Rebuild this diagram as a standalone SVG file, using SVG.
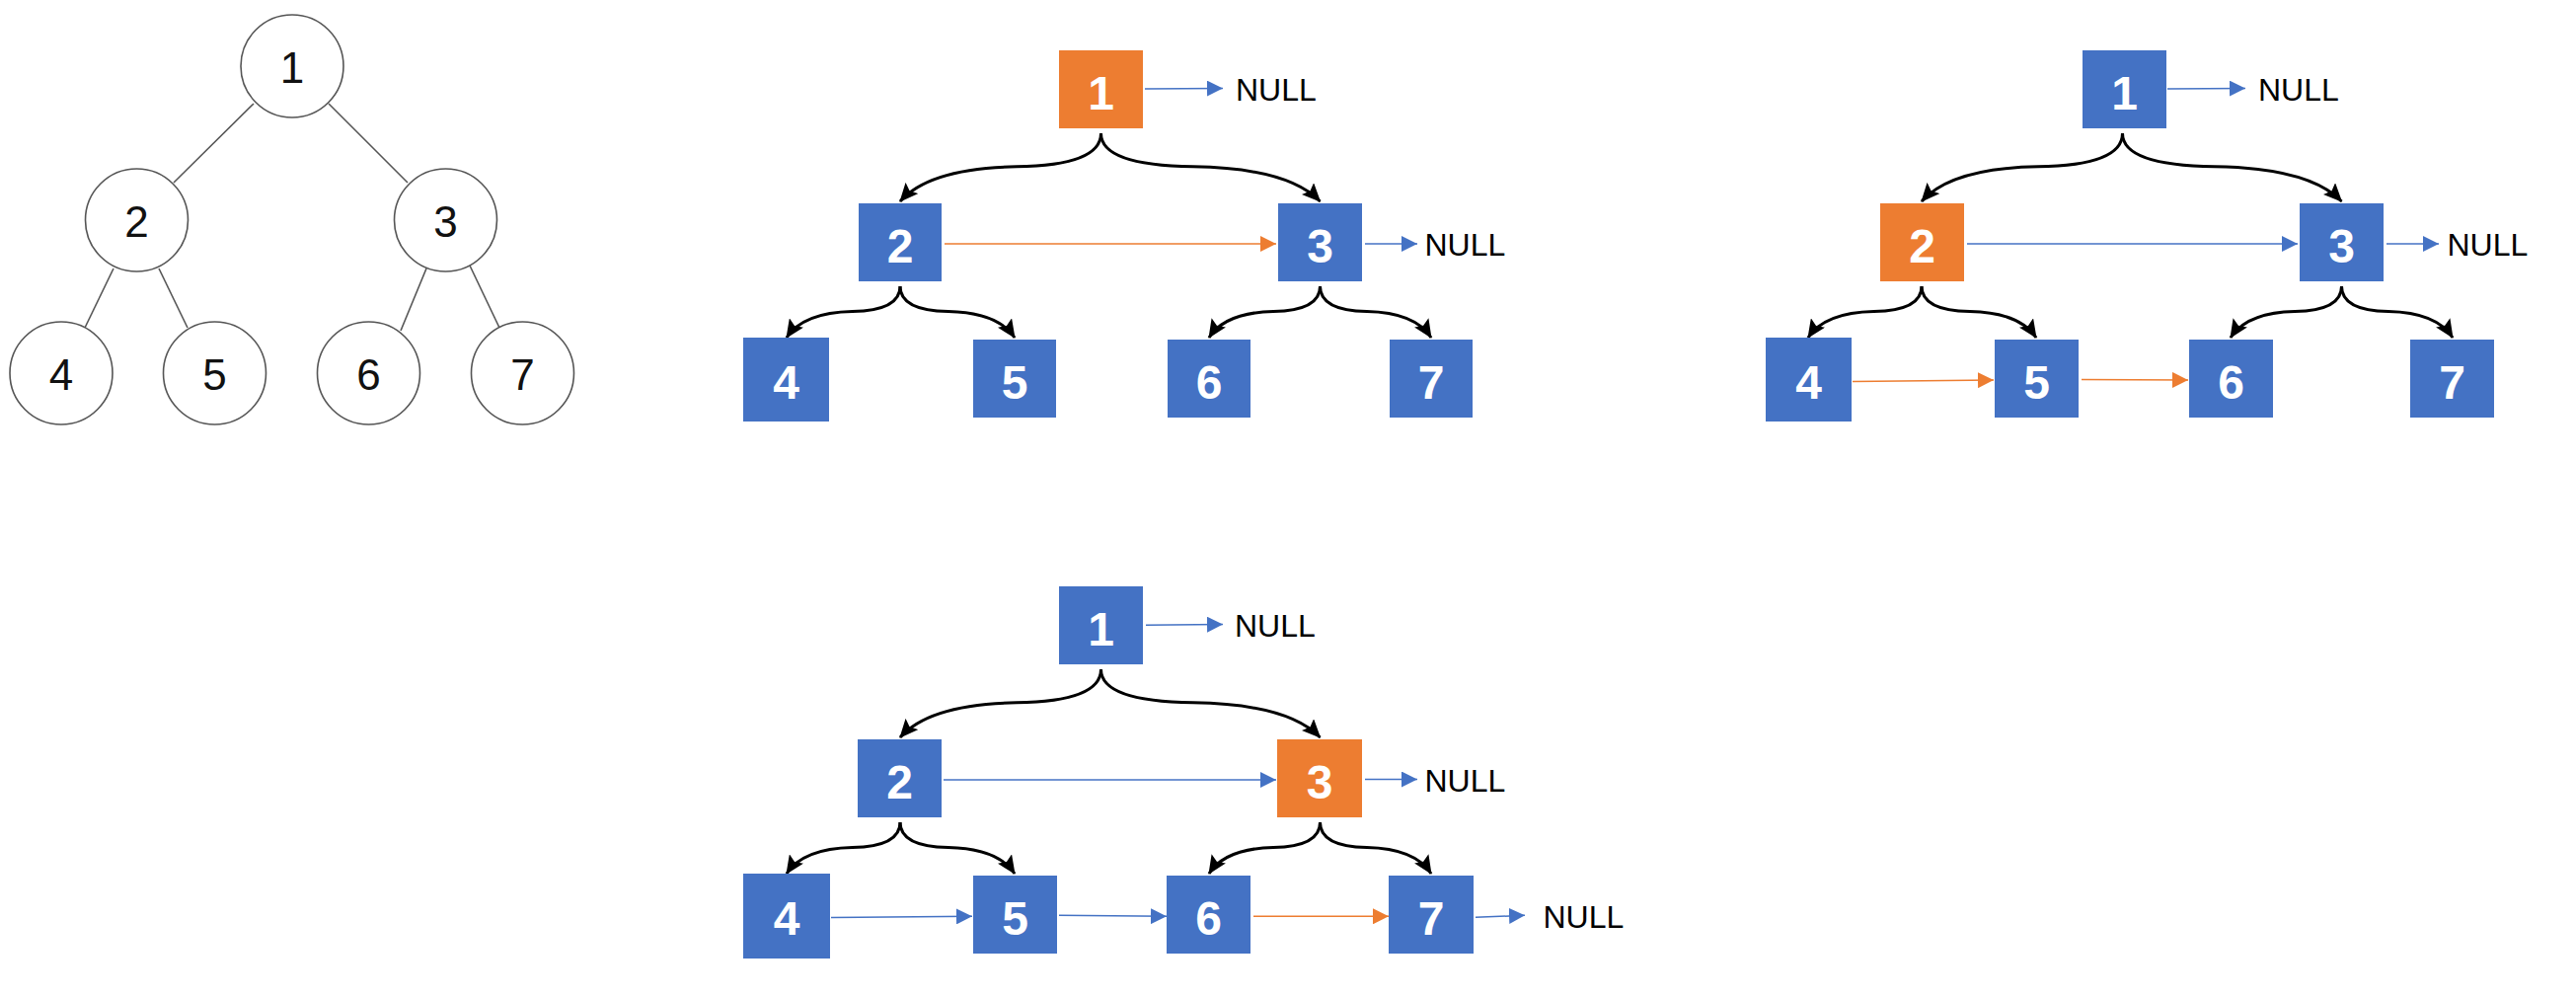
<svg xmlns="http://www.w3.org/2000/svg" width="2610" height="1010" viewBox="0 0 2610 1010">
  <style>
    .circ { fill: #fff; stroke: #555; stroke-width: 1.6; }
    .edge { stroke: #555; stroke-width: 1.6; fill: none; }
    .cnum { font-family: "Liberation Sans", Arial, sans-serif; font-size: 44px; fill: #111; text-anchor: middle; }
    .blue { fill: #4472C4; }
    .orange { fill: #ED7D31; }
    .num { font-family: "Liberation Sans", Arial, sans-serif; font-weight: bold; font-size: 48px; fill: #fff; text-anchor: middle; }
    .null { font-family: "Liberation Sans", Arial, sans-serif; font-size: 32px; fill: #000; }
    .branch { fill: none; stroke: #000; stroke-width: 3; marker-end: url(#head-black); }
    .link-b { fill: none; stroke: #4472C4; stroke-width: 1.5; marker-end: url(#head-blue); }
    .link-o { fill: none; stroke: #ED7D31; stroke-width: 1.5; marker-end: url(#head-orange); }
  </style>
  <defs>
    <marker id="head-black" markerUnits="userSpaceOnUse" viewBox="0 0 19 17" markerWidth="19" markerHeight="17" refX="18" refY="8.5" orient="auto">
      <path d="M0,0 L19,8.5 L0,17 L3.5,8.5 z" fill="#000"/>
    </marker>
    <marker id="head-blue" markerUnits="userSpaceOnUse" viewBox="0 0 16 16" markerWidth="16" markerHeight="16" refX="16" refY="8" orient="auto">
      <path d="M0,0 L16,8 L0,16 z" fill="#4472C4"/>
    </marker>
    <marker id="head-orange" markerUnits="userSpaceOnUse" viewBox="0 0 16 16" markerWidth="16" markerHeight="16" refX="16" refY="8" orient="auto">
      <path d="M0,0 L16,8 L0,16 z" fill="#ED7D31"/>
    </marker>
  </defs>
  <rect width="2610" height="1010" fill="#fff"/>

  <!-- connectors -->
  <g id="connectors">
    <!-- plain binary tree -->
    <g id="tree-edges">
      <line class="edge" x1="257" y1="105" x2="176" y2="185"/>
      <line class="edge" x1="333" y1="105" x2="413" y2="185"/>
      <line class="edge" x1="115" y1="272" x2="86" y2="332"/>
      <line class="edge" x1="161" y1="272" x2="190" y2="332"/>
      <line class="edge" x1="432" y1="272" x2="406" y2="335"/>
      <line class="edge" x1="476" y1="269" x2="506" y2="332"/>
    </g>
    <!-- step 1: root processed -->
    <g id="step1-links">
      <path class="branch" d="M1115.5,135 c0,24.8 -36.6,33.1 -85.5,33.8 c-44.8,0.7 -93.6,7.6 -118,35.2"/>
      <path class="branch" d="M1115.5,135 c0,24.8 40,33.1 93.2,33.8 c48.8,0.7 102.1,7.6 128.8,35.2"/>
      <path class="branch" d="M912,290 c0,18.7 -20.7,25 -48.3,25.5 c-25.3,0.5 -52.9,5.7 -66.7,26.5"/>
      <path class="branch" d="M912,290 c0,18.7 20.9,25 48.7,25.5 c25.5,0.5 53.4,5.7 67.3,26.5"/>
      <path class="branch" d="M1337.5,290 c0,18.7 -20.3,25 -47.3,25.5 c-24.8,0.5 -51.8,5.7 -65.2,26.5"/>
      <path class="branch" d="M1337.5,290 c0,18.7 20.3,25 47.3,25.5 c24.8,0.5 51.8,5.7 65.2,26.5"/>
      <path class="link-b" d="M1160,90 L1239,89.5"/>
      <path class="link-o" d="M957,247 L1293,247"/>
      <path class="link-b" d="M1383,247 L1436,247"/>
    </g>
    <!-- step 2: node 2 processed -->
    <g id="step2-links" transform="translate(1035,0)">
      <path class="branch" d="M1115.5,135 c0,24.8 -36.6,33.1 -85.5,33.8 c-44.8,0.7 -93.6,7.6 -118,35.2"/>
      <path class="branch" d="M1115.5,135 c0,24.8 40,33.1 93.2,33.8 c48.8,0.7 102.1,7.6 128.8,35.2"/>
      <path class="branch" d="M912,290 c0,18.7 -20.7,25 -48.3,25.5 c-25.3,0.5 -52.9,5.7 -66.7,26.5"/>
      <path class="branch" d="M912,290 c0,18.7 20.9,25 48.7,25.5 c25.5,0.5 53.4,5.7 67.3,26.5"/>
      <path class="branch" d="M1337.5,290 c0,18.7 -20.3,25 -47.3,25.5 c-24.8,0.5 -51.8,5.7 -65.2,26.5"/>
      <path class="branch" d="M1337.5,290 c0,18.7 20.3,25 47.3,25.5 c24.8,0.5 51.8,5.7 65.2,26.5"/>
      <path class="link-b" d="M1161,90 L1240,89.5"/>
      <path class="link-b" d="M958,247 L1293,247"/>
      <path class="link-b" d="M1383,247 L1436,247"/>
      <path class="link-o" d="M842,386.5 L985,385"/>
      <path class="link-o" d="M1074,384.5 L1182,385"/>
    </g>
    <!-- step 3: node 3 processed -->
    <g id="step3-links" transform="translate(0,543)">
      <path class="branch" d="M1115.5,135 c0,24.8 -36.6,33.1 -85.5,33.8 c-44.8,0.7 -93.6,7.6 -118,35.2"/>
      <path class="branch" d="M1115.5,135 c0,24.8 40,33.1 93.2,33.8 c48.8,0.7 102.1,7.6 128.8,35.2"/>
      <path class="branch" d="M912,290 c0,18.7 -20.7,25 -48.3,25.5 c-25.3,0.5 -52.9,5.7 -66.7,26.5"/>
      <path class="branch" d="M912,290 c0,18.7 20.9,25 48.7,25.5 c25.5,0.5 53.4,5.7 67.3,26.5"/>
      <path class="branch" d="M1337.5,290 c0,18.7 -20.3,25 -47.3,25.5 c-24.8,0.5 -51.8,5.7 -65.2,26.5"/>
      <path class="branch" d="M1337.5,290 c0,18.7 20.3,25 47.3,25.5 c24.8,0.5 51.8,5.7 65.2,26.5"/>
      <path class="link-b" d="M1161,90.3 L1239,89.5"/>
      <path class="link-b" d="M956,247 L1293,247"/>
      <path class="link-b" d="M1383,246.5 L1436,246.5"/>
      <path class="link-b" d="M842,386.5 L985,385.3"/>
      <path class="link-b" d="M1073,384.3 L1182,385.3"/>
      <path class="link-o" d="M1270,385.3 L1407,385.3"/>
      <path class="link-b" d="M1495,386.3 L1545,384.3"/>
    </g>
  </g>

  <!-- plain binary tree nodes -->
  <g id="tree">
    <g id="t1"><circle class="circ" cx="296" cy="67" r="52"/><text class="cnum" x="296" y="84">1</text></g>
    <g id="t2"><circle class="circ" cx="138.5" cy="223" r="52"/><text class="cnum" x="138.5" y="240">2</text></g>
    <g id="t3"><circle class="circ" cx="451.5" cy="223" r="52"/><text class="cnum" x="451.5" y="240">3</text></g>
    <g id="t4"><circle class="circ" cx="62" cy="378" r="52"/><text class="cnum" x="62" y="395">4</text></g>
    <g id="t5"><circle class="circ" cx="217.5" cy="378" r="52"/><text class="cnum" x="217.5" y="395">5</text></g>
    <g id="t6"><circle class="circ" cx="373.5" cy="378" r="52"/><text class="cnum" x="373.5" y="395">6</text></g>
    <g id="t7"><circle class="circ" cx="529.5" cy="378" r="52"/><text class="cnum" x="529.5" y="395">7</text></g>
  </g>

  <!-- step 1 nodes -->
  <g id="step1">
    <g id="s1-n1"><rect class="orange" x="1073" y="51" width="85" height="79"/><text class="num" x="1115.5" y="111">1</text></g>
    <g id="s1-n2"><rect class="blue" x="870" y="206" width="84" height="79"/><text class="num" x="912" y="265.5">2</text></g>
    <g id="s1-n3"><rect class="blue" x="1295" y="206" width="85" height="79"/><text class="num" x="1337.5" y="265.5">3</text></g>
    <g id="s1-n4"><rect class="blue" x="753" y="342" width="87" height="85"/><text class="num" x="796.5" y="404">4</text></g>
    <g id="s1-n5"><rect class="blue" x="986" y="344" width="84" height="79"/><text class="num" x="1028" y="403.5">5</text></g>
    <g id="s1-n6"><rect class="blue" x="1183" y="344" width="84" height="79"/><text class="num" x="1225" y="403.5">6</text></g>
    <g id="s1-n7"><rect class="blue" x="1408" y="344" width="84" height="79"/><text class="num" x="1450" y="403.5">7</text></g>
    <g id="s1-null1"><text class="null" x="1252" y="101.5">NULL</text></g>
    <g id="s1-null3"><text class="null" x="1443.5" y="258.5">NULL</text></g>
  </g>

  <!-- step 2 nodes -->
  <g id="step2" transform="translate(1035,0)">
    <g id="s2-n1"><rect class="blue" x="1075" y="51" width="85" height="79"/><text class="num" x="1117.5" y="111">1</text></g>
    <g id="s2-n2"><rect class="orange" x="870" y="206" width="85" height="79"/><text class="num" x="912.5" y="265.5">2</text></g>
    <g id="s2-n3"><rect class="blue" x="1295" y="206" width="85" height="79"/><text class="num" x="1337.5" y="265.5">3</text></g>
    <g id="s2-n4"><rect class="blue" x="754" y="342" width="87" height="85"/><text class="num" x="797.5" y="404">4</text></g>
    <g id="s2-n5"><rect class="blue" x="986" y="344" width="85" height="79"/><text class="num" x="1028.5" y="403.5">5</text></g>
    <g id="s2-n6"><rect class="blue" x="1183" y="344" width="85" height="79"/><text class="num" x="1225.5" y="403.5">6</text></g>
    <g id="s2-n7"><rect class="blue" x="1407" y="344" width="85" height="79"/><text class="num" x="1449.5" y="403.5">7</text></g>
    <g id="s2-null1"><text class="null" x="1253" y="101.5">NULL</text></g>
    <g id="s2-null3"><text class="null" x="1444.5" y="258.5">NULL</text></g>
  </g>

  <!-- step 3 nodes -->
  <g id="step3" transform="translate(0,543)">
    <g id="s3-n1"><rect class="blue" x="1073" y="51" width="85" height="79"/><text class="num" x="1115.5" y="111">1</text></g>
    <g id="s3-n2"><rect class="blue" x="869" y="206" width="85" height="79"/><text class="num" x="911.5" y="265.5">2</text></g>
    <g id="s3-n3"><rect class="orange" x="1294" y="206" width="86" height="79"/><text class="num" x="1337" y="265.5">3</text></g>
    <g id="s3-n4"><rect class="blue" x="753" y="342" width="88" height="86"/><text class="num" x="797" y="404">4</text></g>
    <g id="s3-n5"><rect class="blue" x="986" y="344" width="85" height="79"/><text class="num" x="1028.5" y="403.5">5</text></g>
    <g id="s3-n6"><rect class="blue" x="1182" y="344" width="85" height="79"/><text class="num" x="1224.5" y="403.5">6</text></g>
    <g id="s3-n7"><rect class="blue" x="1407" y="344" width="86" height="79"/><text class="num" x="1450" y="403.5">7</text></g>
    <g id="s3-null1"><text class="null" x="1251" y="101.5">NULL</text></g>
    <g id="s3-null3"><text class="null" x="1443.5" y="258.5">NULL</text></g>
    <g id="s3-null7"><text class="null" x="1563.5" y="397">NULL</text></g>
  </g>
</svg>
